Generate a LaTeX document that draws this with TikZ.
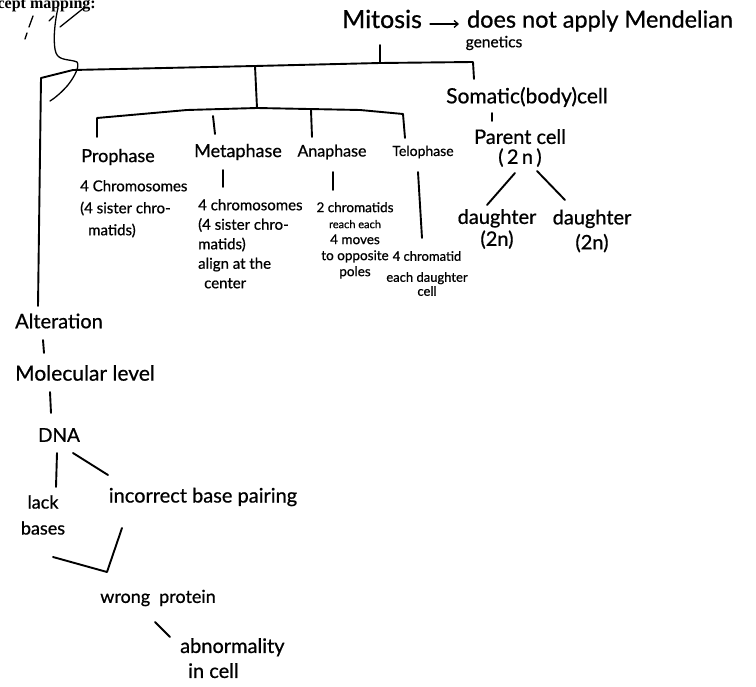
\documentclass[tikz,border=0pt]{standalone}
\usepackage{fontspec}
\setmainfont{Lato}[UprightFeatures={FakeBold=0.7}]
\newfontfamily\headserif{Liberation Serif}
\usetikzlibrary{arrows.meta}
\newcommand\fsz[2]{\fontsize{#1}{#2}\selectfont}

\begin{document}
\begin{tikzpicture}[x=1pt,y=-1pt,
  hw/.style={inner sep=0pt, text=black},
  link/.style={line width=1.9pt, line cap=round, line join=round},
  pen/.style={line width=1.3pt, line cap=round, line join=round}]
\clip (0,0) rectangle (756,687);
\fill[white] (0,0) rectangle (756,687);

% ---- heading fragment and pen strokes ----
\node[hw, font=\headserif\bfseries\fsz{16}{18}, anchor=base east] (title) at (96,9) {cept mapping:};
\draw[pen] (25,39) -- (27,33);
\draw[pen] (29,27) -- (33,16);
\draw[pen] (49,21) -- (54,16);
\draw[pen] (60,27) -- (85,7);
\draw[pen] (58,8) .. controls (54,25) and (53,45) .. (56,53)
  .. controls (59,61) and (70,59) .. (77,62)
  .. controls (80,66) and (75,76) .. (68,85)
  .. controls (62,92) and (55,98) .. (50,101);

% ---- top level ----
\node[hw, font=\fsz{25}{28}] (mitosis) at (382,19) {Mitosis};
\node[hw, font=\fsz{23.5}{26}] (mendel) at (600,21) {does not apply Mendelian};
\node[hw, font=\fsz{15.5}{18}] (genetics) at (494,43) {genetics};
\coordinate (arrS) at (430,24);
\coordinate (arrE) at (459,24);
\draw[line width=1.3pt, line cap=round, -{Straight Barb[length=4pt,width=7pt]}] (arrS) -- (arrE);

% ---- somatic branch ----
\node[hw, font=\fsz{21}{22}] (somatic) at (527,97) {Somatic(body)cell};
\node[hw, font=\fsz{20}{20}, align=center] (parent) at (520,148) {Parent cell\\(\,2\,n\,)};
\node[hw, font=\fsz{20}{22}, align=center] (d1) at (497,229) {daughter\\(2n)};
\node[hw, font=\fsz{20}{25}, align=center] (d2) at (592,231) {daughter\\(2n)};

% ---- phases ----
\node[hw, font=\fsz{18}{20}] (pro) at (118,157) {Prophase};
\node[hw, font=\fsz{18}{20}] (meta) at (238,152) {Metaphase};
\node[hw, font=\fsz{16}{20}] (ana) at (332,152) {Anaphase};
\node[hw, font=\fsz{14}{20}] (telo) at (423,152) {Telophase};

\node[hw, font=\fsz{15}{22}, align=left, anchor=north west] (proT) at (80,180)
  {4 Chromosomes\\(4 sister chro-\\\hspace*{8pt}matids)};
\node[hw, font=\fsz{15}{19.5}, align=left, anchor=north west] (metaT) at (198,199)
  {4 chromosomes\\(4 sister chro-\\matids)\\align at the\\\hspace*{6pt}center};
\node[hw, font=\fsz{13.5}{16}, align=center, anchor=north] (anaT) at (355,202)
  {2 chromatids\\{\fsz{11}{16}reach each}\\4 moves\\to opposite\\poles};
\node[hw, font=\fsz{13}{14}, align=center, anchor=north] (teloT) at (427,251)
  {4 chromatid\\[7pt]each daughter\\cell};

% ---- left column ----
\node[hw, font=\fsz{20}{22}] (alter) at (59,321) {Alteration};
\node[hw, font=\fsz{21}{22}] (molec) at (85,373) {Molecular level};
\node[hw, font=\fsz{19}{22}] (dna) at (59,435) {DNA};
\node[hw, font=\fsz{18}{26}, align=center] (lack) at (43,515) {lack\\bases};
\node[hw, font=\fsz{20}{22}] (incorrect) at (203,497) {incorrect base pairing};
\node[hw, font=\fsz{18}{22}] (wrong) at (158,598) {wrong\enspace protein};
\node[hw, font=\fsz{20}{25}, align=left, anchor=north west] (abn) at (180,638)
  {abnormality\\\hspace*{8pt}in cell};

% ---- junctions and line ends ----
\coordinate (mitS) at (380,45);
\coordinate (mitJ) at (380,63);
\coordinate (topL) at (41,78);
\coordinate (topL2) at (73,70);
\coordinate (phJ) at (255,66);
\coordinate (somJ) at (473,62);
\coordinate (somN) at (474,79);
\coordinate (leftS) at (38,306);
\coordinate (phB) at (257,108);
\coordinate (proJ) at (97,118);
\coordinate (proN) at (97,137);
\coordinate (metJ) at (213,116);
\coordinate (metN) at (215,134);
\coordinate (anaJ) at (311,110);
\coordinate (anaN) at (312,137);
\coordinate (telJ) at (403,114);
\coordinate (telN) at (405,138);
\coordinate (metTa) at (223,170);
\coordinate (metTb) at (223,187);
\coordinate (anaTa) at (333,172);
\coordinate (anaTb) at (333,190);
\coordinate (telTa) at (418,172);
\coordinate (telTb) at (422,238);
\coordinate (somTa) at (492,113);
\coordinate (somTb) at (492,121);
\coordinate (parL) at (515,173);
\coordinate (d1N) at (487,205);
\coordinate (parR) at (537,171);
\coordinate (d2N) at (565,200);
\coordinate (altS) at (43,340);
\coordinate (molN) at (44,353);
\coordinate (molS) at (50,392);
\coordinate (dnaN) at (51,413);
\coordinate (dnaL) at (57,453);
\coordinate (lackN) at (56,487);
\coordinate (dnaR) at (73,453);
\coordinate (incW) at (108,475);
\coordinate (incS) at (122,528);
\coordinate (vee) at (107,572);
\coordinate (lackS) at (53,557);
\coordinate (wrgS) at (155,622);
\coordinate (abnN) at (170,637);

% ---- connectors ----
\draw[link] (mitS) -- (mitJ);
\draw[link] (leftS) -- (topL) -- (topL2) -- (phJ) -- (mitJ) -- (somJ) -- (somN);
\draw[link] (phJ) -- (phB);
\draw[link] (proN) -- (proJ) -- (187,110) -- (phB) -- (360,110) -- (telJ) -- (telN);
\draw[link] (metN) -- (metJ);
\draw[link] (anaN) -- (anaJ);
\draw[link] (metTa) -- (metTb);
\draw[link] (anaTa) -- (anaTb);
\draw[link] (telTa) -- (telTb);
\draw[link] (somTa) -- (somTb);
\draw[link] (parL) -- (d1N);
\draw[link] (parR) -- (d2N);
\draw[link] (altS) -- (molN);
\draw[link] (molS) -- (dnaN);
\draw[link] (dnaL) -- (lackN);
\draw[link] (dnaR) -- (incW);
\draw[link] (incS) -- (vee) -- (lackS);
\draw[link] (wrgS) -- (abnN);
\end{tikzpicture}
\end{document}
